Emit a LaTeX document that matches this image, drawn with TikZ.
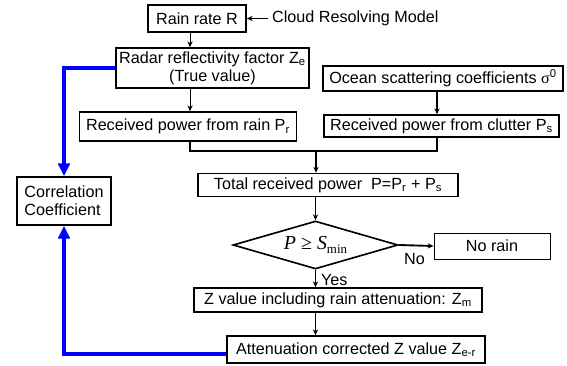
\documentclass[tikz,border=0pt]{standalone}
\usepackage{fontspec}
\setmainfont{Liberation Sans}
\newfontfamily\timesfont{Liberation Serif}
\usetikzlibrary{shapes.geometric,arrows.meta}

\begin{document}
\begin{tikzpicture}[x=0.03cm,y=-0.03cm,font=\fontsize{13.8}{15.3}\selectfont]
    \tikzstyle{box}=[rectangle,draw=black,line width=1.4pt,inner sep=2pt]
    \tikzstyle{test}=[diamond,draw=black,line width=1.4pt,inner sep=0pt,aspect=3.4]
    \tikzstyle{flow}=[-{Stealth[length=5pt,width=4.5pt]},line width=0.8pt]
    \tikzstyle{bigflow}=[-{Stealth[length=5pt,width=4.5pt]},line width=1.6pt]
    \tikzstyle{feedback}=[-{Triangle[length=11pt,width=10pt]},blue,line width=3.6pt]

    \useasboundingbox (0,0) rectangle (567,365);

    % columns of the two chains and the point where they meet
    \coordinate (lcol) at (190,0);
    \coordinate (rcol) at (437,0);
    \coordinate (join) at (316,151);

    % Rain side
    \node [box,minimum width=2.94cm,minimum height=0.81cm] (rate) at (197,18.5) {Rain rate R};
    \node [anchor=west] (crm) at (268,18.5) {Cloud Resolving Model};
    \node [box,align=center,minimum width=5.79cm,minimum height=1.2cm] (radar) at (212.5,68)
        {Radar reflectivity factor Z\textsubscript{e}\\(True value)};
    \node [box,minimum width=6.51cm,minimum height=0.87cm] (rain) at (188,126.5)
        {Received power from rain P\textsubscript{r}};

    % Clutter side
    \node [box,minimum width=7.2cm,minimum height=0.75cm] (ocean) at (443,78.5)
        {Ocean scattering coefficients {\timesfont σ}\textsuperscript{0}};
    \node [box,minimum width=7.05cm,minimum height=0.66cm] (clutter) at (441.5,126)
        {Received power from clutter P\textsubscript{s}};

    % Decision part
    \node [box,minimum width=7.8cm,minimum height=0.69cm] (total) at (328,185)
        {Total received power~~P=P\textsubscript{r} + P\textsubscript{s}};
    \node [test,minimum width=4.95cm,minimum height=1.44cm] (dec) at (315.5,245)
        {\timesfont\fontsize{17}{17}\selectfont\textit{P} ≥ \textit{S}\raisebox{-0.45ex}{\fontsize{11}{11}\selectfont min}};
    \node [box,line width=0.8pt,minimum width=3.48cm,minimum height=0.78cm] (norain) at (492,246) {No rain};
    \node [box,minimum width=8.64cm,minimum height=0.72cm] (zval) at (338,300)
        {Z value including rain attenuation: Z\textsubscript{m}};
    \node [box,minimum width=7.74cm,minimum height=0.81cm] (atten) at (356,349.5)
        {Attenuation corrected Z value Z\textsubscript{e-r}};

    \node [box,align=left,minimum width=2.82cm,minimum height=1.44cm] (corr) at (64,201)
        {Correlation\\Coefficient};

    % Draw connectors
    \draw [flow] (crm.west) -- (rate.east);
    \draw [flow] (rate.south -| lcol) -- (radar.north -| lcol);
    \draw [flow] (radar.south -| lcol) -- (rain.north -| lcol);
    \draw [bigflow] (ocean.south -| rcol) -- (clutter.north -| rcol);
    \draw [line width=1.6pt] (rain.south -| lcol) |- (join) -| (clutter.south -| rcol);
    \draw [bigflow] (join) -- (join |- total.north);
    \draw [bigflow] (total.south -| dec) -- (dec.north);
    \draw [bigflow] (dec.east) -- node [below=3pt,pos=0.45] {No} (norain.west);
    \draw [flow] (dec.south) -- node [right=1pt,pos=0.6] {Yes} (zval.north -| dec);
    \draw [flow] (zval.south -| dec) -- (atten.north -| dec);

    % Feedback to the correlation
    \draw [feedback] (radar.west) -| (corr.north);
    \draw [feedback] ([yshift=-0.13cm]atten.west) -| (corr.south);
\end{tikzpicture}
\end{document}
